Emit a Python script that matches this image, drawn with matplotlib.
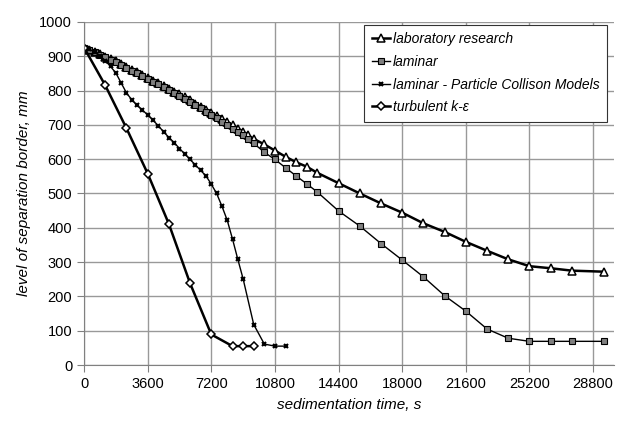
import matplotlib.pyplot as plt

plt.rcParams['font.family'] = ['Liberation Sans', 'DejaVu Sans']

# laboratory research
lab_t = [0, 300, 600, 900, 1200, 1500, 1800, 2100, 2400, 2700, 3000, 3300,
         3600, 3900, 4200, 4500, 4800, 5100, 5400, 5700, 6000, 6300, 6600,
         6900, 7200, 7500, 7800, 8100, 8400, 8700, 9000, 9300, 9600,
         10200, 10800, 11400, 12000, 12600, 13200, 14400, 15600, 16800,
         18000, 19200, 20400, 21600, 22800, 24000, 25200, 26400, 27600, 29400]
lab_h = [925, 919, 913, 906, 899, 892, 885, 877, 869, 861, 853, 845,
         837, 829, 821, 813, 805, 797, 789, 780, 771, 762, 753,
         744, 735, 726, 717, 708, 699, 689, 679, 669, 659,
         643, 625, 607, 591, 578, 560, 530, 500, 471,
         444, 413, 388, 359, 333, 308, 288, 282, 275, 272]

# laminar
lam_t = [0, 300, 600, 900, 1200, 1500, 1800, 2100, 2400, 2700, 3000, 3300,
         3600, 3900, 4200, 4500, 4800, 5100, 5400, 5700, 6000, 6300, 6600,
         6900, 7200, 7500, 7800, 8100, 8400, 8700, 9000, 9300, 9600,
         10200, 10800, 11400, 12000, 12600, 13200, 14400, 15600, 16800,
         18000, 19200, 20400, 21600, 22800, 24000, 25200, 26400, 27600, 29400]
lam_h = [925, 918, 911, 904, 897, 889, 882, 874, 866, 858, 850, 842,
         834, 826, 818, 810, 801, 793, 784, 775, 766, 757, 748,
         738, 729, 719, 709, 699, 689, 679, 669, 658, 646,
         620, 599, 575, 551, 528, 504, 449, 405, 354,
         306, 257, 202, 157, 105, 78, 69, 69, 69, 69]

# laminar - Particle Collison Models
pcm_t = [0, 300, 600, 900, 1200, 1500, 1800, 2100, 2400, 2700, 3000, 3300,
         3600, 3900, 4200, 4500, 4800, 5100, 5400, 5700, 6000, 6300, 6600,
         6900, 7200, 7500, 7800, 8100, 8400, 8700, 9000, 9600, 10200,
         10800, 11400]
pcm_h = [925, 920, 912, 901, 887, 870, 851, 822, 793, 773, 757, 743,
         729, 714, 697, 680, 663, 648, 631, 615, 599, 583, 567,
         551, 527, 500, 463, 422, 367, 308, 251, 118, 61,
         55, 55]

# turbulent k-eps
turb_t = [0, 1200, 2400, 3600, 4800, 6000, 7200, 8400, 9000, 9600]
turb_h = [925, 815, 690, 558, 411, 238, 89, 55, 55, 55]

xticks = [0, 3600, 7200, 10800, 14400, 18000, 21600, 25200, 28800]
yticks = list(range(0, 1001, 100))

fig = plt.figure(figsize=(6.18, 4.21), dpi=100)
ax = fig.add_axes([0.136, 0.133, 0.858, 0.815])

ax.plot(lab_t, lab_h, color='black', lw=1.8, marker='^', ms=5.5,
        mfc='white', mec='black', mew=1.1, label='laboratory research')
ax.plot(lam_t, lam_h, color='black', lw=1.0, marker='s', ms=4.5,
        mfc='#808080', mec='black', mew=0.8, label='laminar')
ax.plot(pcm_t, pcm_h, color='black', lw=1.0, marker='x', ms=3.5,
        mec='black', mew=1.5, label='laminar - Particle Collison Models')
ax.plot(turb_t, turb_h, color='black', lw=1.8, marker='D', ms=4.2,
        mfc='white', mec='black', mew=1.1, label='turbulent k-ε')

ax.set_xlim(0, 30000)
ax.set_ylim(0, 1000)
ax.set_xticks(xticks)
ax.set_yticks(yticks)
ax.grid(True, color='#999999', lw=1.0)
ax.set_axisbelow(True)
for s in ['top', 'right']:
    ax.spines[s].set_visible(False)
for s in ['left', 'bottom']:
    ax.spines[s].set_color('#808080')
ax.tick_params(direction='out', length=5, color='#808080', labelsize=10.5)

ax.set_xlabel('sedimentation time, s', style='italic', fontsize=11, labelpad=5)
ax.set_ylabel('level of separation border, mm', style='italic', fontsize=11, labelpad=6)

leg = ax.legend(loc='upper right', bbox_to_anchor=(1.0, 1.012), fancybox=False,
                edgecolor='#333333', framealpha=1, handlelength=1.3,
                handletextpad=0.2, labelspacing=0.62, borderpad=0.55,
                prop={'style': 'italic', 'size': 10})
leg.get_frame().set_linewidth(0.8)

fig.savefig('out.png', dpi=100)
